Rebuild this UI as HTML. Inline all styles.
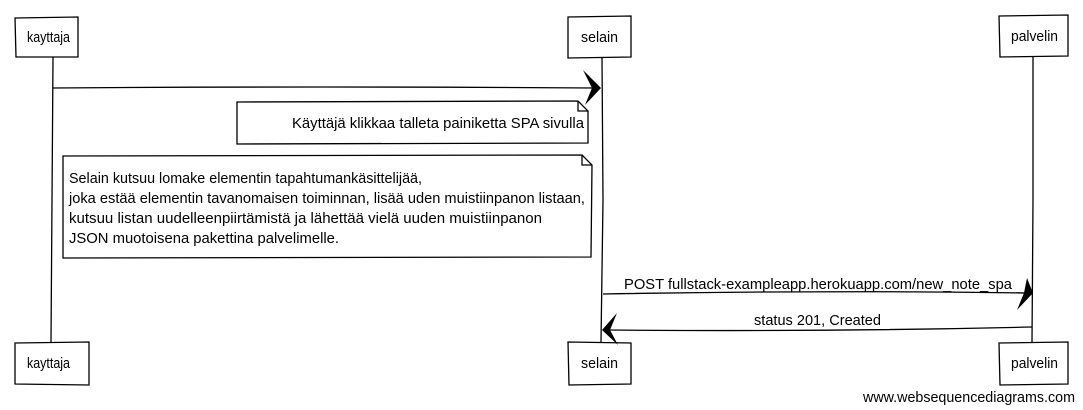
<!DOCTYPE html>
<html><head><meta charset="utf-8"><style>
html,body{margin:0;padding:0;background:#fff;width:1083px;height:410px;overflow:hidden}
svg{display:block}
text{font-family:"Liberation Sans",sans-serif;font-size:14.5px;fill:#000}
</style></head><body>
<svg width="1083" height="410" viewBox="0 0 1083 410" xmlns="http://www.w3.org/2000/svg">
<g fill="none" stroke="#000" stroke-width="1.3">
<path d="M53 57 L52 200 L51 342"/>
<path d="M602 57 L603 200 L601 342"/>
<path d="M1033 57 L1033 200 L1032 342"/>
<path d="M15 18 L78 17 L78 57 L16 57 Z" fill="#fff"/>
<path d="M568 17 L631 16 L631 57 L568 58 Z" fill="#fff"/>
<path d="M999 16 L1068 15 L1068 56 L1000 57 Z" fill="#fff"/>
<path d="M15 343 L89 342 L89 385 L15 384 Z" fill="#fff"/>
<path d="M568 342 L631 343 L631 384 L569 385 Z" fill="#fff"/>
<path d="M999 343 L1068 342 L1068 384 L1000 385 Z" fill="#fff"/>
<path d="M53 88 Q320 86 595 88"/>
<path d="M237 102 L578 101 L588 111 L588 143 L237 144 Z" fill="#fff"/>
<path d="M578 101 L578 111 L588 111"/>
<path d="M63 156 L582 155 L592 165 L591 257 L63 258 Z" fill="#fff"/>
<path d="M582 155 L582 165 L592 165"/>
<path d="M603 294 Q820 290 1028 293"/>
<path d="M1032 327 Q820 332 608 330"/>
</g>
<g fill="#000">
<path d="M583 70 L601 88 L585 105 L592 88 Z"/>
<path d="M1027 278 L1033 293 L1017 310 L1024 293 Z"/>
<path d="M617 313 L602 330 L618 345 L610 330 Z"/>
</g>
<text x="27" y="42" textLength="43" lengthAdjust="spacingAndGlyphs">kayttaja</text>
<text x="581" y="42" textLength="37" lengthAdjust="spacingAndGlyphs">selain</text>
<text x="1011" y="41" textLength="47" lengthAdjust="spacingAndGlyphs">palvelin</text>
<text x="27" y="368" textLength="43" lengthAdjust="spacingAndGlyphs">kayttaja</text>
<text x="581" y="368" textLength="37" lengthAdjust="spacingAndGlyphs">selain</text>
<text x="1011" y="368" textLength="47" lengthAdjust="spacingAndGlyphs">palvelin</text>
<text x="292" y="128" textLength="292" lengthAdjust="spacingAndGlyphs">Käyttäjä klikkaa talleta painiketta SPA sivulla</text>
<text x="69" y="183" textLength="353" lengthAdjust="spacingAndGlyphs">Selain kutsuu lomake elementin tapahtumankäsittelijää,</text>
<text x="69" y="203" textLength="516" lengthAdjust="spacingAndGlyphs">joka estää elementin tavanomaisen toiminnan, lisää uden muistiinpanon listaan,</text>
<text x="69" y="223" textLength="473" lengthAdjust="spacingAndGlyphs">kutsuu listan uudelleenpiirtämistä ja lähettää vielä uuden muistiinpanon</text>
<text x="69" y="243" textLength="270" lengthAdjust="spacingAndGlyphs">JSON muotoisena pakettina palvelimelle.</text>
<text x="624" y="289" textLength="388" lengthAdjust="spacingAndGlyphs">POST fullstack-exampleapp.herokuapp.com/new_note_spa</text>
<text x="754" y="325" textLength="127" lengthAdjust="spacingAndGlyphs">status 201, Created</text>
<text x="863" y="402" textLength="212" lengthAdjust="spacingAndGlyphs">www.websequencediagrams.com</text>
</svg>
</body></html>
